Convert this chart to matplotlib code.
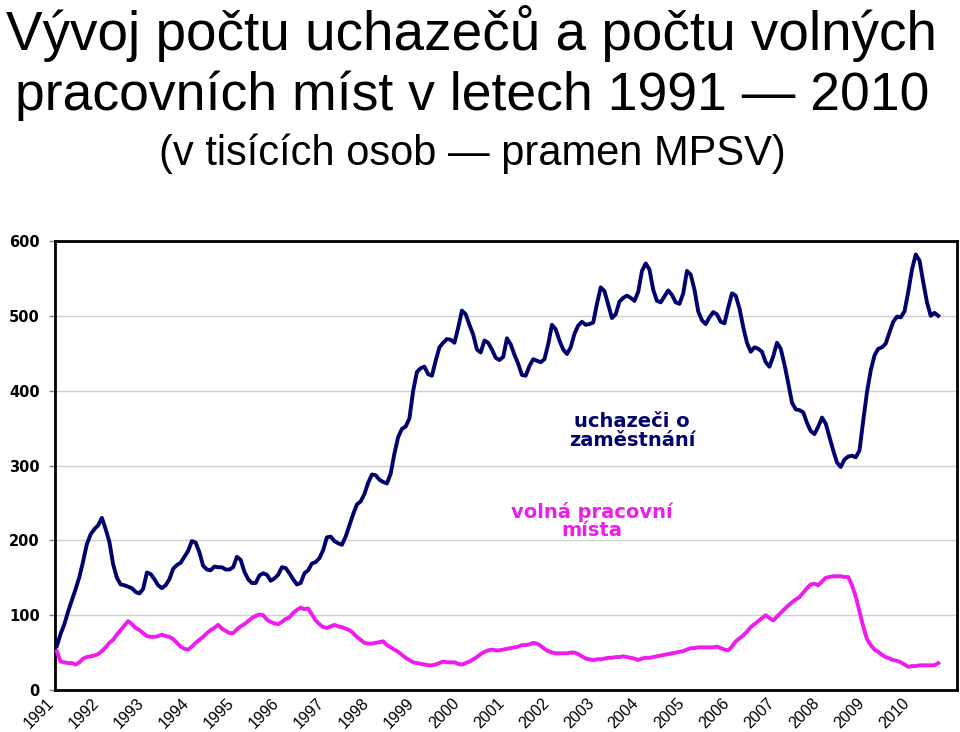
import numpy as np
import matplotlib.pyplot as plt
from matplotlib.transforms import ScaledTranslation

# ==========================================
# Data (v tisících osob, měsíčně 1/1991 - 8/2010)
# ==========================================

YEARS = [str(y) for y in range(1991, 2011)]

UCHAZECI = [
    59, 75, 88, 105, 120, 135, 151, 172, 195, 208,
    215, 220, 230, 215, 198, 168, 150, 141, 140, 138,
    136, 131, 129, 135, 157, 155, 148, 140, 136, 140,
    148, 162, 167, 170, 178, 186, 199, 197, 184, 166,
    161, 160, 165, 164, 164, 161, 161, 164, 178, 174,
    158, 148, 143, 143, 153, 156, 154, 146, 149, 154,
    164, 163, 156, 148, 141, 143, 156, 160, 169, 171,
    176, 187, 204, 205, 199, 196, 194, 205, 220, 235,
    248, 252, 262, 277, 288, 287, 281, 278, 276, 289,
    316, 338, 349, 352, 363, 400, 425, 430, 432, 422,
    420, 440, 458, 464, 469, 468, 464, 484, 507, 502,
    488, 475, 455, 451, 467, 464, 455, 444, 441, 445,
    470, 462, 448, 436, 421, 420, 433, 442, 440, 438,
    442, 462, 488, 482, 467, 455, 449, 458, 476, 487,
    492, 488, 489, 491, 516, 538, 533, 515, 497, 502,
    519, 524, 527, 524, 520, 532, 560, 570, 562, 535,
    520, 518, 526, 534, 528, 518, 516, 530, 560, 555,
    535, 506, 494, 489, 498, 505, 502, 492, 490, 511,
    530, 527, 510, 485, 464, 452, 458, 456, 452, 438,
    432, 446, 464, 456, 435, 410, 384, 375, 374, 371,
    357, 346, 342, 352, 364, 356, 338, 320, 304, 298,
    308, 312, 313, 311, 320, 360, 398, 427, 447, 456,
    458, 463, 478, 492, 499, 498, 506, 532, 562, 582,
    574, 545, 518, 500, 504, 500,
]

VOLNA = [
    52, 38, 37, 36, 36, 34, 37, 42, 44, 45,
    46, 48, 52, 57, 63, 67, 74, 80, 86, 92,
    88, 83, 80, 76, 72, 71, 71, 72, 74, 72,
    71, 68, 63, 58, 55, 54, 58, 63, 67, 71,
    76, 80, 83, 87, 82, 79, 76, 76, 81, 85,
    88, 92, 96, 99, 101, 100, 94, 91, 89, 88,
    91, 95, 97, 103, 107, 110, 108, 109, 101, 93,
    88, 84, 83, 85, 87, 85, 84, 82, 80, 76,
    71, 67, 63, 62, 62, 63, 64, 65, 60, 57,
    54, 51, 47, 43, 40, 37, 36, 35, 34, 33,
    33, 34, 36, 38, 37, 37, 37, 35, 34, 36,
    38, 41, 44, 48, 51, 53, 54, 53, 53, 54,
    55, 56, 57, 58, 60, 60, 61, 63, 62, 59,
    55, 52, 50, 49, 49, 49, 49, 50, 50, 48,
    45, 42, 41, 40, 41, 41, 42, 43, 43, 44,
    44, 45, 44, 43, 42, 40, 42, 43, 43, 44,
    45, 46, 47, 48, 49, 50, 51, 52, 54, 56,
    56, 57, 57, 57, 57, 57, 58, 56, 54, 53,
    58, 65, 69, 73, 78, 84, 88, 92, 96, 100,
    96, 93, 98, 103, 108, 113, 117, 121, 124, 130,
    136, 141, 142, 140, 145, 150, 151, 152, 152, 152,
    151, 151, 140, 125, 105, 85, 68, 60, 54, 51,
    47, 44, 42, 40, 39, 37, 34, 31, 32, 32,
    33, 33, 33, 33, 33, 36,
]

NAVY = "#00006e"
MAGENTA = "#ee1cee"

W, H = 960, 732

# ==========================================
# Figure
# ==========================================

fig = plt.figure(figsize=(W / 100, H / 100), dpi=100)

title_kw = dict(family="Liberation Sans", ha="center", va="baseline", color="black")
fig.text(472 / W, 1 - 50 / H, "Vývoj počtu uchazečů a počtu volných", fontsize=39.5, **title_kw)
fig.text(472 / W, 1 - 110 / H, "pracovních míst v letech 1991 — 2010", fontsize=38.5, **title_kw)
fig.text(472 / W, 1 - 165 / H, "(v tisících osob — pramen MPSV)", fontsize=30, **title_kw)

ax = fig.add_axes([55 / W, 42 / H, 902 / W, 449 / H])

months = np.arange(len(UCHAZECI))
ax.plot(months, UCHAZECI, color=NAVY, lw=2.8, solid_joinstyle="round", zorder=3)
ax.plot(months, VOLNA, color=MAGENTA, lw=2.8, solid_joinstyle="round", zorder=3)

ax.set_xlim(-0.5, 240)
ax.set_ylim(0, 600)

ax.set_yticks(range(0, 601, 100))
ax.yaxis.grid(True, color="#d0d0d0", lw=1.0)
ax.set_axisbelow(True)

for lab in ax.get_yticklabels():
    lab.set_family("DejaVu Sans")
    lab.set_fontweight("bold")
    lab.set_fontsize(10.5)
ax.tick_params(axis="y", length=4, width=1, color="#808080", pad=7)

ax.set_xticks(np.arange(0, 240, 12))
ax.set_xticklabels(YEARS, rotation=45, ha="right", va="top",
                   fontsize=11.5, family="Liberation Sans")
offset = ScaledTranslation(-0.24, 0, fig.dpi_scale_trans)
for lab in ax.get_xticklabels():
    lab.set_transform(lab.get_transform() + offset)
ax.tick_params(axis="x", length=0, pad=4)

for sp in ax.spines.values():
    sp.set_linewidth(2.0)
    sp.set_color("black")

# popisky řad
fig.text(632 / W, 1 - 431 / H, "uchazeči o\nzaměstnání", color=NAVY,
         fontsize=14, fontweight="bold", family="DejaVu Sans",
         ha="center", va="center", linespacing=0.95)
fig.text(592 / W, 1 - 521 / H, "volná pracovní\nmísta", color=MAGENTA,
         fontsize=14, fontweight="bold", family="DejaVu Sans",
         ha="center", va="center", linespacing=0.95)

fig.savefig("out.png", dpi=100)
